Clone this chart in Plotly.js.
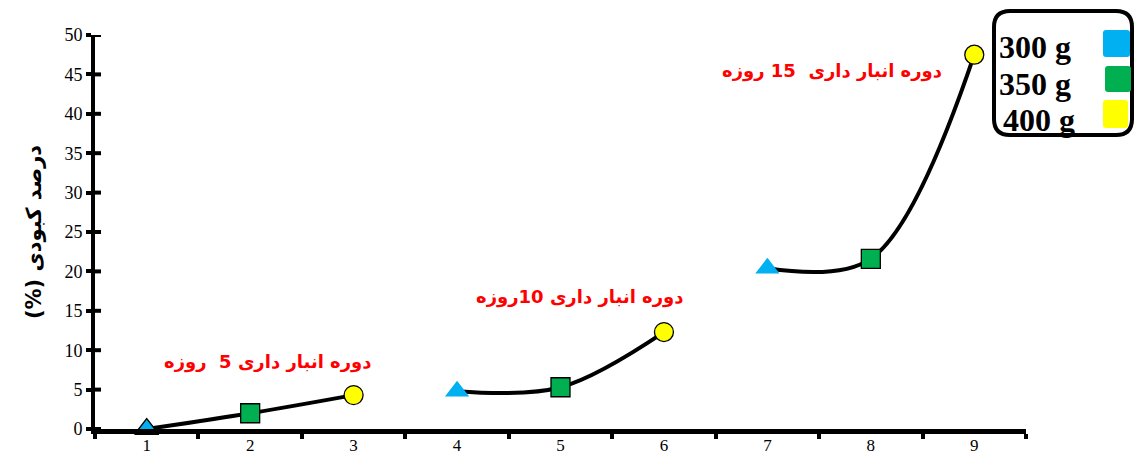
<!DOCTYPE html>
<html>
<head>
<meta charset="utf-8">
<script src="https://cdn.plot.ly/plotly-3.0.1.min.js"></script>
<style>html,body{margin:0;padding:0;background:#fff;}#chart{width:1135px;height:458px;}</style>
</head>
<body>
<div id="chart"></div>
<script>
// ---- data ----
const categories = ['1','2','3','4','5','6','7','8','9'];
const group5Days  = [0, 2.0, 4.3];
const group10Days = [4.8, 5.3, 12.3];
const group15Days = [20.4, 21.6, 47.5];
const weightLabels = ['300 g', '350 g', '400 g'];
const weightColors = ['#00B0F0', '#00B050', '#FFFF00'];
const weightSymbols = ['triangle-up', 'square', 'circle'];
const periodLabels = ['دوره انبار داری 5  روزه', 'دوره انبار داری 10روزه', 'دوره انبار داری  15 روزه'];
const yTitle = 'درصد کبودی (%)\u200F';

function groupTrace(xs, ys, triOutline) {
  return {
    x: xs, y: ys, type: 'scatter', mode: 'lines+markers', cliponaxis: false,
    line: {color: '#000', width: 4, shape: 'spline', smoothing: 1.0},
    marker: {
      symbol: weightSymbols, color: weightColors, size: [21, 19, 19], opacity: 1,
      line: {color: '#000', width: [triOutline, 1.3, 1.3]}
    },
    hoverinfo: 'x+y', showlegend: false
  };
}

const traces = [
  groupTrace(categories.slice(0,3), group5Days, 1.3),
  groupTrace(categories.slice(3,6), group10Days, 0),
  groupTrace(categories.slice(6,9), group15Days, 0)
];

// plot area: x 95..1026, y 35..429
const W = 931, H = 394;
const px = v => (v - 95) / W;
const py = v => (429 - v) / H;

function roundRect(x0, y0, x1, y1, r) {
  const rx = r / W, ry = r / H;
  const X0 = px(x0), X1 = px(x1), Y0 = py(y0), Y1 = py(y1); // Y0 top
  return `M ${X0+rx} ${Y0} L ${X1-rx} ${Y0} Q ${X1} ${Y0} ${X1} ${Y0-ry} L ${X1} ${Y1+ry} Q ${X1} ${Y1} ${X1-rx} ${Y1} L ${X0+rx} ${Y1} Q ${X0} ${Y1} ${X0} ${Y1+ry} L ${X0} ${Y0-ry} Q ${X0} ${Y0} ${X0+rx} ${Y0} Z`;
}

const shapes = [
  {type: 'path', xref: 'paper', yref: 'paper', path: roundRect(994, 11, 1132, 135, 16), line: {color: '#000', width: 4}, fillcolor: 'rgba(0,0,0,0)'}
];
const legendBoxes = [[1103, 30, 1130, 57], [1105, 66, 1131, 92], [1103, 100, 1128, 128]];
legendBoxes.forEach((b, i) => {
  shapes.push({type: 'path', xref: 'paper', yref: 'paper', path: roundRect(b[0], b[1], b[2], b[3], 3), line: {width: 0}, fillcolor: weightColors[i]});
});
// cross-through tick marks on the y axis (inner half)
[0,5,10,15,20,25,30,35,40,45,50].forEach(v => {
  shapes.push({type: 'line', xref: 'paper', yref: 'y', x0: px(95), x1: px(101), y0: v, y1: v, line: {color: '#000', width: 4}, layer: 'below'});
});

const annotations = [];
const legendTextPos = [[997, 47], [997, 84], [1001, 120]];
weightLabels.forEach((t, i) => {
  annotations.push({xref: 'paper', yref: 'paper', x: px(legendTextPos[i][0]), y: py(legendTextPos[i][1]), xanchor: 'left', yanchor: 'middle', text: '<b>' + t + '</b>', showarrow: false, font: {family: 'Liberation Serif', size: 32, color: '#000'}});
});
const periodPos = [[268, 362], [580, 297], [832, 71]];
periodLabels.forEach((t, i) => {
  annotations.push({xref: 'paper', yref: 'paper', x: px(periodPos[i][0]), y: py(periodPos[i][1]), xanchor: 'center', yanchor: 'middle', text: '<b>' + t + '</b>', showarrow: false, font: {family: 'DejaVu Sans', size: 18, color: '#FF0000'}});
});

const layout = {
  width: 1135, height: 458,
  margin: {l: 95, r: 109, t: 35, b: 29, pad: 0},
  paper_bgcolor: '#fff', plot_bgcolor: '#fff',
  showlegend: false,
  xaxis: {
    type: 'category', categoryorder: 'array', categoryarray: categories,
    range: [-0.5, 8.5], tickson: 'boundaries',
    showline: true, linecolor: '#000', linewidth: 5,
    ticks: 'outside', ticklen: 5, tickwidth: 4, tickcolor: '#000',
    showgrid: false, zeroline: false, ticklabelstandoff: -3,
    tickfont: {family: 'Liberation Serif', size: 17, color: '#000'}
  },
  yaxis: {
    range: [0, 50], tickvals: [0,5,10,15,20,25,30,35,40,45,50],
    showline: true, linecolor: '#000', linewidth: 4,
    ticks: 'outside', ticklen: 5, tickwidth: 4, tickcolor: '#000',
    showgrid: false, zeroline: false,
    tickfont: {family: 'Liberation Serif', size: 18, color: '#000'},
    title: {text: '<b>' + yTitle + '</b>', font: {family: 'DejaVu Sans', size: 21, color: '#000'}, standoff: 18}
  },
  shapes: shapes,
  annotations: annotations
};

Plotly.newPlot('chart', traces, layout, {displayModeBar: false, staticPlot: true});
</script>
</body>
</html>
